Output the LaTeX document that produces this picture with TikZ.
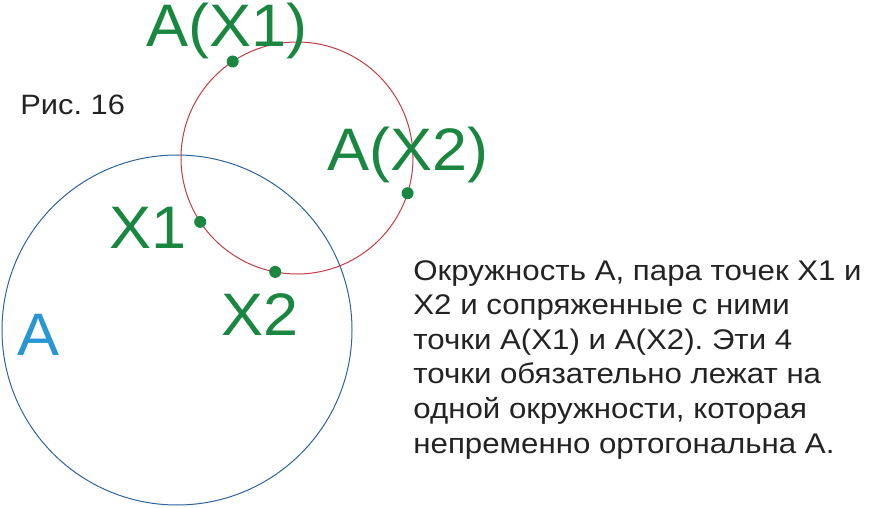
\documentclass[tikz,border=0pt]{standalone}
\usepackage{fontspec}
\setmainfont{Liberation Sans}
\newfontfamily\labelfont[FakeStretch=1.05]{Liberation Sans}
\newfontfamily\notefont[FakeStretch=1.1]{Liberation Sans}
\frenchspacing
\definecolor{ptgreen}{RGB}{26,135,65}
\definecolor{circblue}{RGB}{40,150,210}
\definecolor{bluerim}{RGB}{45,100,160}
\definecolor{redrim}{RGB}{195,60,70}
\definecolor{txtgray}{RGB}{35,35,35}
\tikzset{
  dot/.style={circle,fill=ptgreen,inner sep=0pt,minimum size=6pt},
  ptlabel/.style={text=ptgreen,font=\labelfont\fontsize{30}{30}\selectfont,inner sep=0pt}
}
\begin{document}
\begin{tikzpicture}[x=0.5pt,y=-0.5pt]
            \useasboundingbox (0,0) rectangle (884,508);

            \coordinate (ca) at (177,330);
            \coordinate (co) at (297,158);
            \draw[bluerim,line width=0.5pt] (ca) circle[radius=175];
            \draw[redrim,line width=0.5pt] (co) circle[radius=116];

            \node[dot] (ax1) at (232.7,61.5) {};
            \node[dot] (x1) at (200.2,221.9) {};
            \node[dot] (x2) at (275.2,271.9) {};
            \node[dot] (ax2) at (407.6,193.2) {};

            \node[ptlabel,anchor=base] (lax1) at (227,47) {A(X1)};
            \node[ptlabel,anchor=base] (lx1) at (148,249) {X1};
            \node[ptlabel,anchor=base] (lx2) at (260,335) {X2};
            \node[ptlabel,anchor=base] (lax2) at (408,170) {A(X2)};
            \node[ptlabel,anchor=base,text=circblue] (la) at (39,355) {A};

            \node[anchor=base west,inner sep=0pt,text=txtgray,font=\notefont\fontsize{14}{14}\selectfont] (fig) at (20,115) {Рис. 16};

            % the base of a multi-line node is its last line
            \node[anchor=base west,inner sep=0pt,text=txtgray,align=left,
                  font=\notefont\fontsize{14.2}{17.3}\selectfont] (note) at (413,453)
                  {Окружность А, пара точек Х1 и\\
                   Х2 и сопряженные с ними\\
                   точки А(Х1) и А(Х2). Эти 4\\
                   точки обязательно лежат на\\
                   одной окружности, которая\\
                   непременно ортогональна А.};
        \end{tikzpicture}
\end{document}
